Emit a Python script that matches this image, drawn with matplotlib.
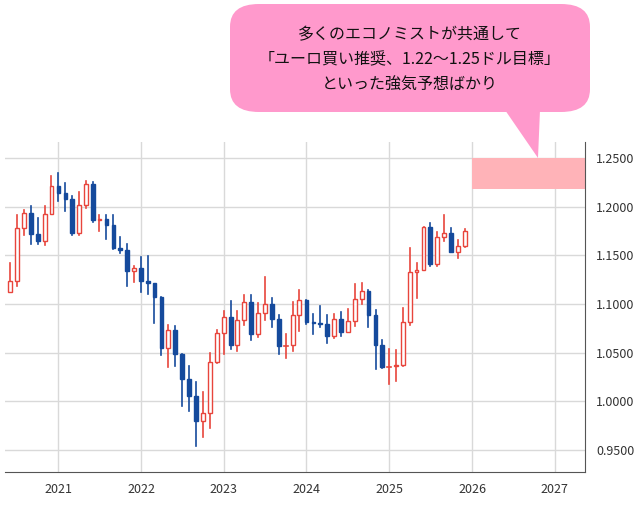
import matplotlib
matplotlib.use("Agg")
import matplotlib.pyplot as plt
import matplotlib.dates as mdates
from matplotlib.patches import FancyBboxPatch, Polygon, Rectangle
import datetime as dt

plt.rcParams['font.family'] = ['Noto Sans CJK JP', 'DejaVu Sans']

start = (2020, 6)
opens = [1.1125,1.1234,1.1778,1.1936,1.1721,1.1646,1.1926,
 1.2215,1.2136,1.2074,1.1728,1.2020,1.2228,1.1858,1.1870,1.1807,1.1580,1.1558,1.1338,
 1.1370,1.1235,1.1218,1.1067,1.0545,1.0734,1.0484,1.0225,1.0054,0.9802,0.9884,1.0405,
 1.0705,1.0863,1.0576,1.0839,1.1018,1.0689,1.0910,1.0998,1.0843,1.0573,1.0577,1.0886,
 1.1039,1.0819,1.0804,1.0790,1.0666,1.0848,1.0713,1.0826,1.1047,1.1135,1.0883,1.0577,
 1.0354,1.0362,1.0375,1.0816,1.1327,1.1347,1.1787,1.1415,1.1684,1.1734,1.1535,1.1597]
highs = [1.1422,1.1909,1.1966,1.2011,1.1881,1.2003,1.2310,
 1.2349,1.2243,1.2113,1.2150,1.2266,1.2254,1.1909,1.1909,1.1909,1.1692,1.1616,1.1386,
 1.1483,1.1495,1.1185,1.1076,1.0787,1.0774,1.0487,1.0368,1.0198,1.0094,1.0497,1.0736,
 1.0929,1.1033,1.0930,1.1095,1.1092,1.1012,1.1276,1.1065,1.0882,1.0695,1.1017,1.1140,
 1.1046,1.0898,1.0981,1.0885,1.0895,1.0916,1.0948,1.1202,1.1214,1.1144,1.0937,1.0630,
 1.0533,1.0528,1.0955,1.1573,1.1419,1.1790,1.1830,1.1742,1.1918,1.1778,1.1655,1.1770]
lows = [1.1168,1.1186,1.1711,1.1612,1.1612,1.1603,1.1925,
 1.2054,1.1952,1.1704,1.1704,1.1986,1.1847,1.1752,1.1664,1.1563,1.1524,1.1186,1.1222,
 1.1121,1.1106,1.0806,1.0471,1.0349,1.0359,0.9952,0.9901,0.9536,0.9632,0.9730,1.0393,
 1.0482,1.0533,1.0516,1.0788,1.0635,1.0662,1.0834,1.0766,1.0488,1.0448,1.0517,1.0724,
 1.0795,1.0695,1.0768,1.0601,1.0650,1.0668,1.0709,1.0777,1.1002,1.0761,1.0333,1.0343,
 1.0178,1.0211,1.0360,1.0779,1.1065,1.1347,1.1392,1.1391,1.1646,1.1544,1.1468,1.1590]
closes = opens[1:] + [1.1750]
yticks = [0.95,1.0,1.05,1.10,1.15,1.20,1.25]
xyears = [2021,2022,2023,2024,2025,2026,2027]
target_lo, target_hi = 1.2185, 1.25
bubble_lines = ["多くのエコノミストが共通して", "「ユーロ買い推奨、1.22〜1.25ドル目標」", "といった強気予想ばかり"]

dates = []
y, m = start
for _ in opens:
    dates.append(mdates.date2num(dt.date(y, m, 1)))
    m += 1
    if m > 12:
        m = 1; y += 1

fig = plt.figure(figsize=(6.43, 5.05), dpi=100)
ax = fig.add_axes([5/643, 1-472/505, 580/643, 330/505])
up_c, dn_c = '#e8453c', '#154a9c'
w = 17
for d, o, h, l, c in zip(dates, opens, highs, lows, closes):
    col = up_c if c >= o else dn_c
    ax.plot([d, d], [l, h], color=col, lw=1.2, zorder=3)
    lo, hi = min(o, c), max(o, c)
    if hi - lo < 0.0008:
        ax.plot([d-w/2, d+w/2], [o, o], color=col, lw=1.2, zorder=4)
    elif c >= o:
        ax.add_patch(Rectangle((d-w/2, lo), w, hi-lo, facecolor='white', edgecolor=col, lw=1.0, zorder=4))
    else:
        ax.add_patch(Rectangle((d-w/2, lo), w, hi-lo, facecolor=col, edgecolor=col, lw=1.0, zorder=4))

x0 = mdates.date2num(dt.date(2026, 1, 1))
xend = mdates.date2num(dt.date(2027, 5, 15))
ax.add_patch(Rectangle((x0, target_lo), xend-x0, target_hi-target_lo, facecolor='#ffb3b8', edgecolor='none', zorder=2))

ax.set_xlim(mdates.date2num(dt.date(2020, 5, 10)), mdates.date2num(dt.date(2027, 5, 15)))
ax.set_ylim(0.9274, 1.2664)
ax.set_yticks(yticks)
ax.set_yticklabels([f"{v:.4f}" for v in yticks])
ax.set_xticks([mdates.date2num(dt.date(yy, 1, 1)) for yy in xyears])
ax.set_xticklabels([str(yy) for yy in xyears])
ax.yaxis.tick_right()
ax.tick_params(axis='both', length=0, labelsize=9, colors='#333333', pad=8)
ax.grid(True, color='#d9d9d9', lw=1, zorder=0)
for s in ['top', 'left']:
    ax.spines[s].set_visible(False)
ax.spines['right'].set_color('#555555')
ax.spines['bottom'].set_color('#555555')

# speech bubble
fig.patches.append(FancyBboxPatch((230/643, 1-112/505), 360/643, 108/505,
    boxstyle="round,pad=0,rounding_size=0.045", transform=fig.transFigure,
    facecolor='#ff99cc', edgecolor='none'))
fig.patches.append(Polygon([(505/643, 1-110/505), (538/643, 1-158/505), (540/643, 1-110/505)],
    closed=True, transform=fig.transFigure, facecolor='#ff99cc', edgecolor='none'))
for i, t in enumerate(bubble_lines):
    fig.text(410/643, 1-(35+i*25)/505, t, ha='center', va='center', fontsize=11.5, color='#111111')

fig.savefig("out.png", dpi=100)
